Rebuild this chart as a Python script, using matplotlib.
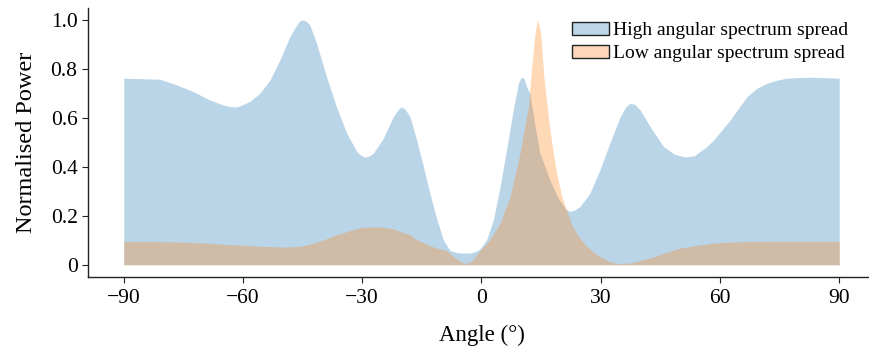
import numpy as np
import matplotlib.pyplot as plt
from matplotlib.patches import Patch

# Data
angle_high = [-90, -85, -80.9, -76.7, -72.6, -68.3, -65, -63.3, -61.6, -60.8, -58.3, -55.8, -53.2,
              -50.7, -48.2, -47, -46.1, -45.5, -44.9, -44.2, -43.2, -41.5, -39, -36.5, -33.9,
              -31.4, -30.2, -29.3, -28.3, -27.2, -24.7, -22.2, -20.8, -20.1, -19.2, -18, -16.3,
              -14.6, -13, -11.3, -9.6, -7.9, -6.5, -5.4, -2.9, -1.5, -0.4, 1.3, 3, 4.7, 6.3, 8,
              9.3, 9.8, 10.2, 10.8, 11.4, 12.2, 13.5, 14.7, 17.2, 19.3, 21.3, 22.3, 23.5, 24.8,
              27.3, 29.8, 32.3, 34.9, 36.3, 37.4, 38.6, 39.9, 42.4, 45.8, 48.5, 51.2, 53.5, 56.7,
              58.4, 60.5, 62.6, 64.7, 66.8, 69.3, 71.8, 74, 76.8, 80, 83.5, 87, 90]
power_high = [0.762, 0.760, 0.758, 0.735, 0.708, 0.673, 0.653, 0.646, 0.645, 0.649, 0.667, 0.700,
              0.755, 0.837, 0.932, 0.966, 0.989, 0.998, 1.0, 0.996, 0.98, 0.905, 0.769, 0.646,
              0.537, 0.463, 0.446, 0.44, 0.444, 0.456, 0.517, 0.605, 0.637, 0.645, 0.635, 0.606,
              0.51, 0.401, 0.293, 0.19, 0.102, 0.058, 0.051, 0.048, 0.048, 0.054, 0.064, 0.102,
              0.184, 0.32, 0.469, 0.633, 0.741, 0.760, 0.767, 0.758, 0.725, 0.70, 0.565, 0.456,
              0.347, 0.272, 0.225, 0.218, 0.224, 0.238, 0.293, 0.388, 0.497, 0.605, 0.645, 0.66,
              0.655, 0.633, 0.565, 0.483, 0.452, 0.44, 0.445, 0.483, 0.51, 0.551, 0.592, 0.64,
              0.687, 0.721, 0.741, 0.753, 0.762, 0.765, 0.766, 0.764, 0.762]

angle_low = [-90, -83, -76.7, -68.3, -63.3, -58, -54.9, -49, -45.5, -42.3, -39.5, -36.5, -33,
             -29.8, -25.6, -22.5, -20.5, -18, -16.3, -14.2, -12.1, -8.8, -7.1, -5.4, -4.2, -2.5,
             -0.4, 2.1, 4.7, 7.2, 9.7, 11.8, 12.6, 13.2, 13.7, 14.1, 14.5, 14.9, 15.7, 16.8,
             17.7, 18.9, 20.2, 21.4, 22.7, 24.4, 26.5, 29, 31.5, 34, 37.4, 42.4, 46, 50, 52.5,
             55.5, 58.3, 62, 66.8, 75, 90]
power_low = [0.095, 0.095, 0.093, 0.088, 0.082, 0.078, 0.075, 0.072, 0.076, 0.088, 0.103, 0.122,
             0.14, 0.154, 0.154, 0.148, 0.136, 0.122, 0.102, 0.087, 0.072, 0.058, 0.034, 0.014,
             0.004, 0.014, 0.058, 0.102, 0.17, 0.279, 0.456, 0.646, 0.796, 0.905, 0.97, 1.0,
             0.975, 0.946, 0.769, 0.605, 0.497, 0.374, 0.279, 0.224, 0.163, 0.116, 0.075, 0.041,
             0.018, 0.004, 0.007, 0.027, 0.048, 0.068, 0.075, 0.082, 0.088, 0.092, 0.095, 0.096,
             0.096]

x_ticks = [-90, -60, -30, 0, 30, 60, 90]
y_ticks = [0, 0.2, 0.4, 0.6, 0.8, 1.0]
y_tick_labels = ['0', '0.2', '0.4', '0.6', '0.8', '1.0']
labels = ['High angular spectrum spread', 'Low angular spectrum spread']

plt.rcParams['font.family'] = ['Liberation Serif', 'DejaVu Serif']

fig = plt.figure(figsize=(8.7, 3.5), dpi=100)
ax = fig.add_axes([0.1011, 0.2086, 0.9046, 0.7693])

ax.fill_between(angle_high, 0, power_high, color='C0', alpha=0.3, lw=0)
ax.fill_between(angle_low, 0, power_low, color='C1', alpha=0.3, lw=0)

ax.set_xticks(x_ticks)
ax.set_xticklabels([str(t).replace('-', '\u2212') for t in x_ticks])
ax.set_yticks(y_ticks)
ax.set_yticklabels(y_tick_labels)
ax.tick_params(labelsize=15.5, direction='out', length=4, width=0.8, color='#222222')
ax.tick_params(axis='x', pad=5)

ax.set_xlabel('Angle (°)', fontsize=16.5, labelpad=12)
ax.set_ylabel('Normalised Power', fontsize=17.5, labelpad=10)

for s in ['top', 'right']:
    ax.spines[s].set_visible(False)
for s in ['left', 'bottom']:
    ax.spines[s].set_color('#222222')
    ax.spines[s].set_linewidth(1.0)

handles = [Patch(facecolor=(0.737, 0.839, 0.91), edgecolor='#222222', lw=1),
           Patch(facecolor=(1.0, 0.847, 0.733), edgecolor='#222222', lw=1)]
ax.legend(handles, labels, loc='upper right', bbox_to_anchor=(848 / 870, 1 - 22 / 350),
          bbox_transform=fig.transFigure, frameon=False,
          fontsize=14, handlelength=1.9, handleheight=0.62, handletextpad=0.2,
          labelspacing=0.3, borderpad=0, borderaxespad=0)

fig.savefig('out.png', dpi=100)
